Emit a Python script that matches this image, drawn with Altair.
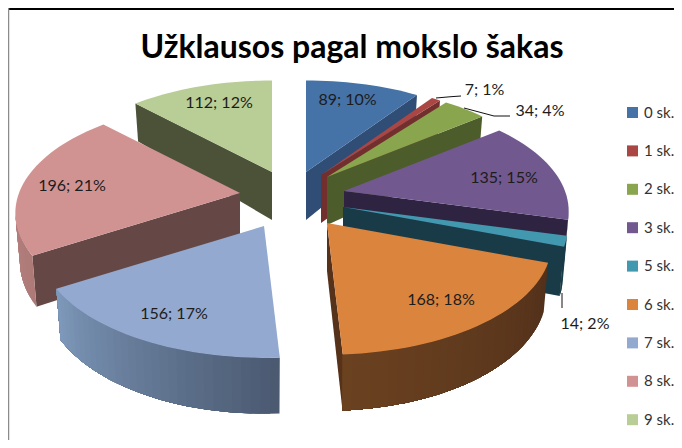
import math
import altair as alt
import pandas as pd

# ---- data ----
categories = ["0 sk.", "1 sk.", "2 sk.", "3 sk.", "5 sk.", "6 sk.", "7 sk.", "8 sk.", "9 sk."]
values = [89, 7, 34, 135, 14, 168, 156, 196, 112]
percents = [10, 1, 4, 15, 2, 18, 17, 21, 12]
top_colors = ["#4572a7", "#aa4643", "#89a54e", "#71588f", "#4198af", "#db843d", "#93a9cf", "#d19392", "#b9cd96"]
side_colors = ["#2f4d75", "#722f2d", "#4d5c2b", "#2e2340", "#193b47", "#56321a", "#4a5970", "#654846", "#4c5238"]
rim_start = ["#2f4d75", "#722f2d", "#4d5c2b", "#2e2340", "#193b47", "#52301a", "#4a5970", "#ad7a78", "#4c5238"]
rim_end = ["#2f4d75", "#722f2d", "#4d5c2b", "#2e2340", "#193b47", "#6b4220", "#7e99bb", "#c98f8d", "#4c5238"]

# ---- layout of the 3D pie, in page pixels ----
apex = [(306, 172), (321, 175), (327, 177), (344, 191), (343, 207), (327, 223), (264, 226), (240, 193), (272, 172)]
draw_order = [8, 0, 7, 1, 2, 3, 4, 6, 5]
RX, RY, PERSP = 221.0, 108.0, 0.18
WALL = 48.0
label_x = [347.5, 484.5, 540, 504, 585, 441, 174, 72, 219]
label_y = [100, 90, 111, 178, 324, 300, 314, 186, 103]
leaders = [
    [(436, 98), (451, 96.7), (461, 96)],
    [(464, 108), (494, 116), (510, 116)],
    [(562, 293), (562, 308)],
]

W, H = 666, 432
ORIGIN_X, ORIGIN_Y = 8, 8


def mix(c1, c2, t):
    a = [int(c1[i:i + 2], 16) for i in (1, 3, 5)]
    b = [int(c2[i:i + 2], 16) for i in (1, 3, 5)]
    return "#%02x%02x%02x" % tuple(round(p + (q - p) * t) for p, q in zip(a, b))


def rim(ax, ay, deg):
    t = math.radians(deg)
    w = 1 + PERSP * math.cos(t)
    dx = RX * math.sin(t) / w
    dy = -RY * math.cos(t) / w
    h = 45.5 - 10.5 * math.cos(t)
    return (ax + dx, ay + dy), (ax + 0.98 * dx, ay + dy + h)


def feature(points, color):
    ring = [list(p) for p in points]
    ring.append(ring[0])
    return {"type": "Feature", "geometry": {"type": "Polygon", "coordinates": [ring]},
            "properties": {}, "col": color}


total = sum(values)
spans = []
acc = 0
for v in values:
    spans.append((acc / total * 360, (acc + v) / total * 360))
    acc += v

features = []
for i in draw_order:
    ax, ay = apex[i]
    t0, t1 = spans[i]
    n = max(2, int((t1 - t0) / 2))
    angles = [t0 + (t1 - t0) * k / n for k in range(n + 1)]
    tops = [rim(ax, ay, a)[0] for a in angles]
    bots = [rim(ax, ay, a)[1] for a in angles]
    A, Ab = (ax, ay), (ax, ay + WALL)
    if tops[0][0] < ax - 0.5:
        features.append(feature([A, tops[0], bots[0], Ab], side_colors[i]))
    if tops[-1][0] > ax + 0.5:
        features.append(feature([tops[-1], A, Ab, bots[-1]], side_colors[i]))
    # Rim wall: only the part that faces the viewer; each band runs to the end of
    # the visible stretch, so the next band overlaps it and no seam shows.
    visible = [k for k in range(n) if tops[k + 1][0] < tops[k][0]]
    for k in visible:
        stop = k + 1
        while stop in visible:
            stop += 1
        c = mix(rim_start[i], rim_end[i], (k + 0.5) / n)
        features.append(feature(tops[k:stop + 1] + bots[k:stop + 1][::-1], c))
    features.append(feature([A] + tops, top_colors[i]))

xscale = alt.Scale(domain=[ORIGIN_X, ORIGIN_X + W], nice=False, zero=False)
yscale = alt.Scale(domain=[ORIGIN_Y, ORIGIN_Y + H], range=[0, H], nice=False, zero=False)
X = alt.X("x:Q", scale=xscale, axis=None)
Y = alt.Y("y:Q", scale=yscale, axis=None)

pie = alt.Chart(alt.Data(values=features)).mark_geoshape(strokeWidth=0).encode(
    fill=alt.Fill("col:N", scale=None),
).project(type="identity", scale=1, translate=[-ORIGIN_X, -ORIGIN_Y])

label_df = pd.DataFrame({
    "x": label_x, "y": label_y,
    "t": [f"{v}; {p}%" for v, p in zip(values, percents)],
})
labels = alt.Chart(label_df).mark_text(font="Lato", fontSize=16, color="#1c1c1c").encode(x=X, y=Y, text="t:N")

leader_rows = [{"g": g, "o": o, "x": p[0], "y": p[1]} for g, pts in enumerate(leaders) for o, p in enumerate(pts)]
leader_lines = alt.Chart(pd.DataFrame(leader_rows)).mark_line(color="#111111", strokeWidth=1).encode(
    x=X, y=Y, detail="g:N", order="o:Q")

frame_top = alt.Chart(pd.DataFrame({"x": [8, 8 + W], "y": [9, 9]})).mark_line(color="#000000", strokeWidth=2).encode(x=X, y=Y)
frame_left = alt.Chart(pd.DataFrame({"x": [8.5, 8.5], "y": [8, 440]})).mark_line(color="#8c8c8c", strokeWidth=1.5).encode(x=X, y=Y)

legend_layer = alt.Chart(pd.DataFrame({"cat": categories})).mark_square(size=1, opacity=0).encode(
    color=alt.Color("cat:N", title=None,
                    scale=alt.Scale(domain=categories, range=top_colors),
                    legend=alt.Legend(orient="none", legendX=617, legendY=97, symbolType="square",
                                      symbolSize=121, symbolOpacity=1, symbolStrokeWidth=0,
                                      labelFont="Lato", labelFontSize=15, labelColor="#333333",
                                      labelOffset=4, rowPadding=22.4)),
)

chart = alt.layer(pie, frame_top, frame_left, leader_lines, labels, legend_layer).properties(
    width=W, height=H, autosize="none", padding=0,
    title=alt.TitleParams("Užklausos pagal mokslo šakas", font="Lato", fontSize=32, fontWeight="bold",
                          color="#000000", anchor="middle", dx=11, dy=60, offset=0),
).configure_view(stroke=None)

chart.save("out.html", embed_options={"renderer": "svg", "actions": False})
